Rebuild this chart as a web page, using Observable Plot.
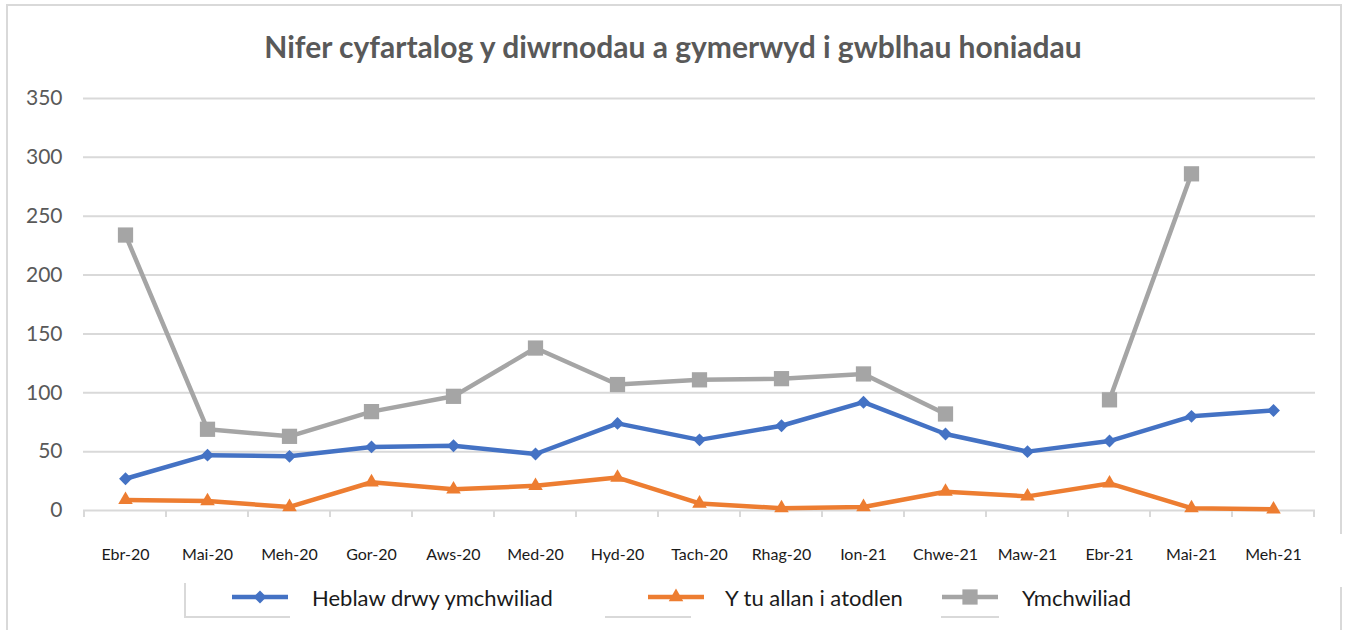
<!DOCTYPE html>
<html>
<head>
<meta charset="utf-8">
<script src="https://cdn.jsdelivr.net/npm/d3@7"></script>
<script src="https://cdn.jsdelivr.net/npm/@observablehq/plot@0.6"></script>
<style>
  html, body { margin: 0; padding: 0; background: #fff; }
  #wrap { position: relative; width: 1346px; height: 630px; overflow: hidden; font-family: Lato, "Open Sans", sans-serif; }
  .bd { position: absolute; background: #d9d9d9; }
  #title { position: absolute; left: 0; width: 1346px; top: 26px; text-align: center; font-size: 30px; line-height: 40px; font-weight: bold; color: #595959; }
  #chart { position: absolute; left: 0; top: 0; }
  .leg { position: absolute; top: 584px; height: 26px; display: flex; align-items: center; font-size: 22px; color: #1a1a1a; }
  .leg svg { display: block; }
</style>
</head>
<body>
<div id="wrap">
  <div class="bd" style="left:6px;top:4px;width:1336px;height:2px"></div>
  <div class="bd" style="left:6px;top:4px;width:2px;height:626px"></div>
  <div class="bd" style="left:1340px;top:4px;width:2px;height:530px"></div>
  <div class="bd" style="left:1340px;top:587px;width:2px;height:43px"></div>
  <div class="bd" style="left:184px;top:583px;width:2px;height:35px"></div>
  <div class="bd" style="left:184px;top:616px;width:106px;height:2px"></div>
  <div class="bd" style="left:605px;top:616px;width:86px;height:2px"></div>
  <div class="bd" style="left:941px;top:616px;width:58px;height:2px"></div>
  <div id="title">Nifer cyfartalog y diwrnodau a gymerwyd i gwblhau honiadau</div>
  <div id="chart"></div>
  <div id="legend"></div>
</div>
<script>
const months = ["Ebr-20","Mai-20","Meh-20","Gor-20","Aws-20","Med-20","Hyd-20","Tach-20","Rhag-20","Ion-21","Chwe-21","Maw-21","Ebr-21","Mai-21","Meh-21"];
const heblaw = [27, 47, 46, 54, 55, 48, 74, 60, 72, 92, 65, 50, 59, 80, 85];
const tuAllan = [9, 8, 3, 24, 18, 21, 28, 6, 2, 3, 16, 12, 23, 2, 1];
const ymchwiliad = [234, 69, 63, 84, 97, 138, 107, 111, 112, 116, 82, null, 94, 286, null];
const yTicks = [0, 50, 100, 150, 200, 250, 300, 350];
const seriesNames = ["Heblaw drwy ymchwiliad", "Y tu allan i atodlen", "Ymchwiliad"];
const colors = ["#4472c4", "#ed7d31", "#a5a5a5"];
const symbols = ["diamond2", "triangle", "square"];
const radii = [5.8, 5.4, 8.6];

const seriesValues = [heblaw, tuAllan, ymchwiliad];
const rows = seriesValues.map((vals, s) => months.map((m, i) => ({month: m, value: vals[i], series: seriesNames[s]})));

const boundaryTicks = (index, scales, values, dimensions) => {
  const x = scales.x;
  const y0 = dimensions.height - dimensions.marginBottom;
  const g = document.createElementNS("http://www.w3.org/2000/svg", "g");
  const bounds = months.map(m => x(m)).concat([x(months[months.length - 1]) + x.bandwidth()]);
  for (const b of bounds) {
    const l = document.createElementNS("http://www.w3.org/2000/svg", "line");
    l.setAttribute("x1", b); l.setAttribute("x2", b);
    l.setAttribute("y1", y0); l.setAttribute("y2", y0 + 7);
    l.setAttribute("stroke", "#d9d9d9"); l.setAttribute("stroke-width", 2);
    g.appendChild(l);
  }
  return g;
};

const marks = [
  Plot.ruleY(yTicks, {y: d => d, stroke: "#d9d9d9", strokeWidth: 2}),
  boundaryTicks,
  Plot.text(yTicks, {y: d => d, text: d => String(d), frameAnchor: "left", textAnchor: "end", dx: -21, fontSize: 21, fill: "#595959"}),
  Plot.text(months, {x: d => d, text: d => d, frameAnchor: "bottom", dy: 49, fontSize: 16, fill: "#1a1a1a"})
];
rows.forEach((r, s) => {
  marks.push(Plot.line(r, {x: "month", y: "value", stroke: colors[s], strokeWidth: 4.5, strokeLinejoin: "round", defined: d => d.value != null}));
  marks.push(Plot.dot(r.filter(d => d.value != null), {x: "month", y: "value", symbol: () => symbols[s], r: radii[s], fill: colors[s], stroke: "none"}));
});

const chart = Plot.plot({
  width: 1346,
  height: 590,
  marginTop: 98,
  marginBottom: 80,
  marginLeft: 83,
  marginRight: 31,
  style: {fontFamily: "Lato, 'Open Sans', sans-serif", background: "transparent", overflow: "visible"},
  x: {type: "band", domain: months, padding: 0, axis: null},
  y: {domain: [0, 350], axis: null},
  symbol: {type: "identity"},
  marks
});
document.getElementById("chart").appendChild(chart);

const legendSpec = [
  {left: 232, textLeft: 312},
  {left: 648, textLeft: 725},
  {left: 942, textLeft: 1022}
];
const legend = document.getElementById("legend");
seriesNames.forEach((name, s) => {
  const sym = d3.symbol().type([d3.symbolDiamond2, d3.symbolTriangle, d3.symbolSquare][s]).size(Math.PI * radii[s] * radii[s]);
  const div = document.createElement("div");
  div.className = "leg";
  div.style.left = legendSpec[s].left + "px";
  const w = 56;
  div.innerHTML = `<svg width="${w}" height="26"><line x1="0" x2="${w}" y1="13" y2="13" stroke="${colors[s]}" stroke-width="4.5"/><path transform="translate(${w/2},13)" d="${sym()}" fill="${colors[s]}"/></svg>`;
  const t = document.createElement("span");
  t.textContent = name;
  t.style.position = "absolute";
  t.style.left = (legendSpec[s].textLeft - legendSpec[s].left) + "px";
  t.style.whiteSpace = "nowrap";
  div.appendChild(t);
  legend.appendChild(div);
});
</script>
</body>
</html>
